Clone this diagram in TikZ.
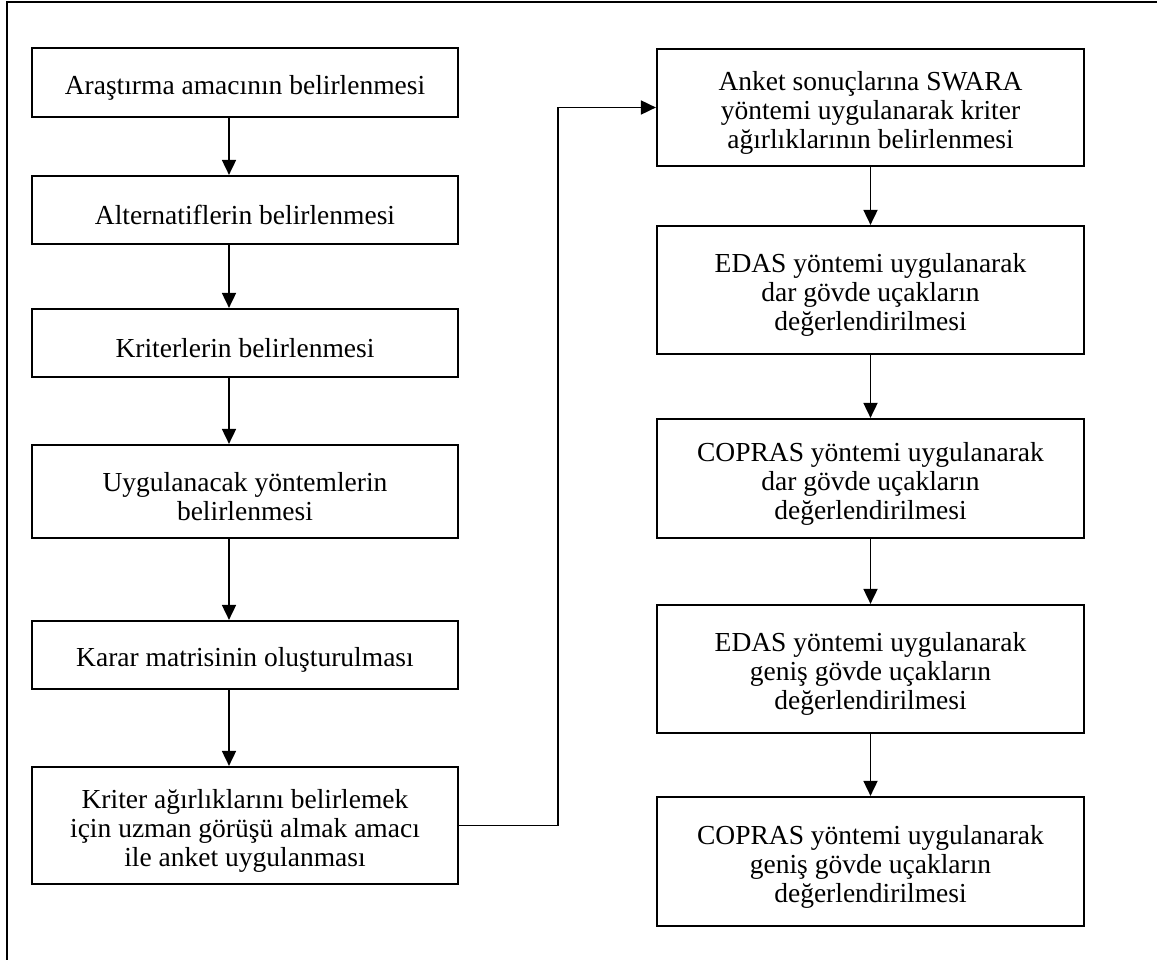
\documentclass[tikz,border=0pt]{standalone}
\usepackage{fontspec}
\setmainfont{Liberation Serif}
\usetikzlibrary{arrows.meta}
\begin{document}
\begin{tikzpicture}[x=1pt,y=-1pt,
  stepbox/.style={draw, line width=2.2pt, minimum width=426pt, inner sep=0pt},
  steptext/.style={align=center, inner sep=0pt, yshift=-5pt,
    font=\fontsize{27.5}{29}\selectfont},
  flow/.style={line width=1.8pt, -{Triangle[length=15pt,width=14pt]}}]
\useasboundingbox (0,0) rectangle (1157,960);
\clip (0,0) rectangle (1157,960);
% outer frame
\draw[line width=2.5pt] (7,2) rectangle (1180,985);
% left column
\node[stepbox, minimum height=69pt, label={[steptext]center:Araştırma amacının belirlenmesi}] (b1) at (245,82.5) {};
\node[stepbox, minimum height=68pt, label={[steptext]center:Alternatiflerin belirlenmesi}] (b2) at (245,210) {};
\node[stepbox, minimum height=68pt, label={[steptext]center:Kriterlerin belirlenmesi}] (b3) at (245,343) {};
\node[stepbox, minimum height=93pt, label={[steptext]center:Uygulanacak yöntemlerin\\belirlenmesi}] (b4) at (245,491.5) {};
\node[stepbox, minimum height=68pt, label={[steptext]center:Karar matrisinin oluşturulması}] (b5) at (245,655) {};
\node[stepbox, minimum height=117pt, label={[steptext]center:Kriter ağırlıklarını belirlemek\\için uzman görüşü almak amacı\\ile anket uygulanması}] (b6) at (245,825.5) {};
% right column
\node[stepbox, minimum width=427pt, minimum height=117pt, label={[steptext]center:Anket sonuçlarına SWARA\\yöntemi uygulanarak kriter\\ağırlıklarının belirlenmesi}] (r1) at (870.5,107.5) {};
\node[stepbox, minimum width=427pt, minimum height=128pt, label={[steptext]center:EDAS yöntemi uygulanarak\\dar gövde uçakların\\değerlendirilmesi}] (r2) at (870.5,290) {};
\node[stepbox, minimum width=427pt, minimum height=119pt, label={[steptext]center:COPRAS yöntemi uygulanarak\\dar gövde uçakların\\değerlendirilmesi}] (r3) at (870.5,478.5) {};
\node[stepbox, minimum width=427pt, minimum height=128pt, label={[steptext]center:EDAS yöntemi uygulanarak\\geniş gövde uçakların\\değerlendirilmesi}] (r4) at (870.5,669) {};
\node[stepbox, minimum width=427pt, minimum height=129pt, label={[steptext]center:COPRAS yöntemi uygulanarak\\geniş gövde uçakların\\değerlendirilmesi}] (r5) at (870.5,861.5) {};
% connectors
\foreach \a/\b in {b1/b2,b2/b3,b3/b4,b4/b5,b5/b6}
  \draw[flow] (\a.south -| 229,0) -- (\b.north -| 229,0);
\foreach \a/\b in {r1/r2,r2/r3,r3/r4,r4/r5}
  \draw[flow] (\a.south) -- (\b.north);
\draw[flow] (b6.east) -- ++(99,0) |- (r1.west);
\end{tikzpicture}
\end{document}
